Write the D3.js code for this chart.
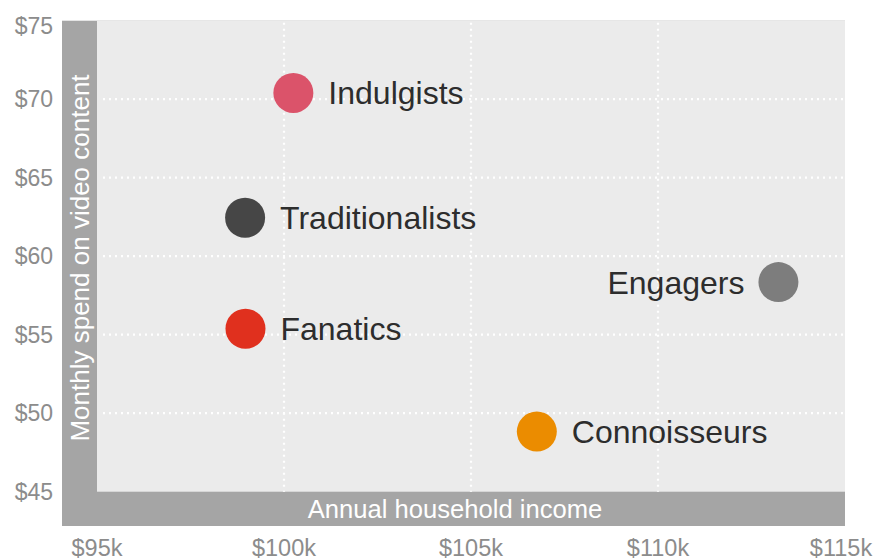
<!DOCTYPE html>
<html><head><meta charset="utf-8">
<script src="https://cdn.jsdelivr.net/npm/d3@7"></script>
<style>
html,body{margin:0;padding:0;background:#fff;}
svg{display:block;font-family:"Liberation Sans",Arial,Helvetica,sans-serif;}
</style></head>
<body><svg id="c" width="877" height="560"></svg>
<script>
const segments = ["Indulgists","Traditionalists","Fanatics","Engagers","Connoisseurs"];
const income   = [100.25, 98.96, 98.97, 113.22, 106.76];   // $k
const spend    = [70.4, 62.45, 55.38, 58.35, 48.83];        // $
const colors   = ["#db536a","#464646","#e0301e","#7d7d7d","#eb8c00"];
const labelSide = ["right","right","right","left","right"];
const xTicks = [95,100,105,110,115];
const yTicks = [45,50,55,60,65,70,75];
const xTitle = "Annual household income";
const yTitle = "Monthly spend on video content";

const svg = d3.select("#c");
const L = 97, R = 845, T = 20.7, B = 491.7, bandL = 62, bandB = 526;
const x = d3.scaleLinear().domain([95,115]).range([L,R]);
const y = d3.scaleLinear().domain([45,75]).range([B,T]);

svg.append("rect").attr("x",bandL).attr("y",T).attr("width",R-bandL).attr("height",bandB-T).attr("fill","#a5a5a5");
svg.append("rect").attr("x",L).attr("y",T).attr("width",R-L).attr("height",B-T).attr("fill","#ebebeb");

const grid = svg.append("g").attr("stroke","#fff").attr("stroke-width",2.2).attr("stroke-dasharray","2,4");
grid.selectAll("line.v").data(xTicks.slice(1,-1)).join("line")
  .attr("x1",d=>x(d)).attr("x2",d=>x(d)).attr("y1",T+2).attr("y2",B);
grid.selectAll("line.h").data(yTicks.slice(1,-1)).join("line")
  .attr("x1",L+6).attr("x2",R).attr("y1",d=>y(d)).attr("y2",d=>y(d));

// tick labels
svg.append("g").selectAll("text").data(yTicks).join("text")
  .attr("x",53).attr("y",d=>Math.max(y(d),26)).attr("dy","0.36em")
  .attr("text-anchor","end").attr("font-size",23).attr("fill","#8c8c8c")
  .text(d=>"$"+d);
svg.append("g").selectAll("text").data(xTicks).join("text")
  .attr("x",d=>Math.min(x(d),841)).attr("y",556)
  .attr("text-anchor","middle").attr("font-size",23.5).attr("fill","#8c8c8c")
  .text(d=>"$"+d+"k");

// axis titles
svg.append("text").attr("x",455).attr("y",509).attr("dy","0.36em")
  .attr("text-anchor","middle").attr("font-size",25.6).attr("fill","#fff").text(xTitle);
svg.append("text").attr("transform","translate(80,258) rotate(-90)").attr("dy","0.36em")
  .attr("text-anchor","middle").attr("font-size",26).attr("fill","#fff").text(yTitle);

// points
const data = segments.map((s,i)=>({s, x:income[i], y:spend[i], c:colors[i], side:labelSide[i]}));
const g = svg.append("g");
g.selectAll("circle").data(data).join("circle")
  .attr("cx",d=>x(d.x)).attr("cy",d=>y(d.y)).attr("r",20).attr("fill",d=>d.c);
g.selectAll("text").data(data).join("text")
  .attr("x",d=>d.side==="right" ? x(d.x)+35 : x(d.x)-34)
  .attr("y",d=>y(d.y)).attr("dy","0.36em")
  .attr("text-anchor",d=>d.side==="right"?"start":"end")
  .attr("font-size",32).attr("fill","#2d2d2d").text(d=>d.s);
</script></body></html>
